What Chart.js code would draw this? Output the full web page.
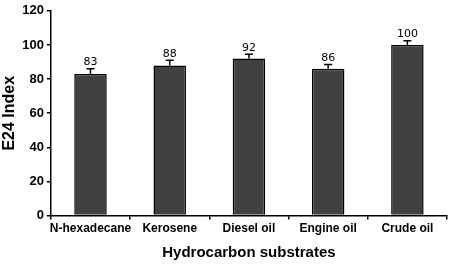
<!DOCTYPE html>
<html>
<head>
<meta charset="utf-8">
<script src="https://cdn.jsdelivr.net/npm/chart.js@4/dist/chart.umd.min.js"></script>
<style>
  html, body { margin: 0; padding: 0; background: #fff; }
  canvas { display: block; }
</style>
</head>
<body>
<canvas id="chart" width="450" height="269"></canvas>
<script>
const substrates = ["N-hexadecane", "Kerosene", "Diesel oil", "Engine oil", "Crude oil"];
const e24Values = [83, 88, 92, 86, 100];
const e24Errors = [3, 3, 2.5, 2.5, 2.5];
const yTicks = [0, 20, 40, 60, 80, 100, 120];

// error bars + value labels drawn through the scales
const errorBarPlugin = {
  id: "errorBars",
  afterDatasetsDraw(chart) {
    const { ctx, scales: { x, y } } = chart;
    ctx.save();
    ctx.strokeStyle = "#000";
    ctx.lineWidth = 1.5;
    e24Values.forEach((v, i) => {
      const cx = x.getPixelForValue(i);
      const top = y.getPixelForValue(v + e24Errors[i]);
      const base = y.getPixelForValue(v);
      ctx.beginPath();
      ctx.moveTo(cx, base);
      ctx.lineTo(cx, top);
      ctx.moveTo(cx - 4, top);
      ctx.lineTo(cx + 4, top);
      ctx.stroke();

      ctx.fillStyle = "#000";
      ctx.font = "11px 'DejaVu Sans'";
      ctx.textAlign = "center";
      ctx.textBaseline = "bottom";
      ctx.fillText(String(v), cx, top - 1);
    });
    ctx.restore();
  }
};

new Chart(document.getElementById("chart").getContext("2d"), {
  type: "bar",
  data: {
    labels: substrates,
    datasets: [{
      data: e24Values,
      backgroundColor: "#404040",
      borderColor: "#000",
      borderWidth: 1.5,
      barPercentage: 0.41,
      categoryPercentage: 1
    }]
  },
  options: {
    responsive: false,
    animation: false,
    layout: { padding: { top: -4, right: 3, left: 0, bottom: 7 } },
    plugins: {
      legend: { display: false },
      tooltip: { enabled: false }
    },
    scales: {
      x: {
        offset: true,
        grid: {
          offset: true,
          drawOnChartArea: false,
          drawTicks: true,
          tickLength: 4,
          color: "#000",
          lineWidth: 1.5
        },
        border: { color: "#000", width: 1.5 },
        ticks: {
          color: "#000",
          font: { family: "'Liberation Sans', Arial", size: 12, weight: "bold" },
          padding: 2,
          maxRotation: 0,
          autoSkip: false
        },
        title: {
          display: true,
          text: "Hydrocarbon substrates",
          color: "#000",
          font: { family: "'Liberation Sans', Arial", size: 15, weight: "bold" },
          padding: { top: 6, bottom: 0 }
        }
      },
      y: {
        min: 0,
        max: 120,
        afterBuildTicks(axis) {
          axis.ticks = yTicks.map(v => ({ value: v }));
        },
        grid: {
          drawOnChartArea: false,
          drawTicks: true,
          tickLength: 4,
          color: "#000",
          lineWidth: 1.5
        },
        border: { color: "#000", width: 1.5 },
        ticks: {
          color: "#000",
          font: { family: "'Liberation Sans', Arial", size: 13, weight: "bold" },
          padding: 3
        },
        title: {
          display: true,
          text: "E24 Index",
          color: "#000",
          font: { family: "'Liberation Sans', Arial", size: 16, weight: "bold" },
          padding: { top: 0, bottom: 0 }
        }
      }
    }
  },
  plugins: [errorBarPlugin]
});
</script>
</body>
</html>
